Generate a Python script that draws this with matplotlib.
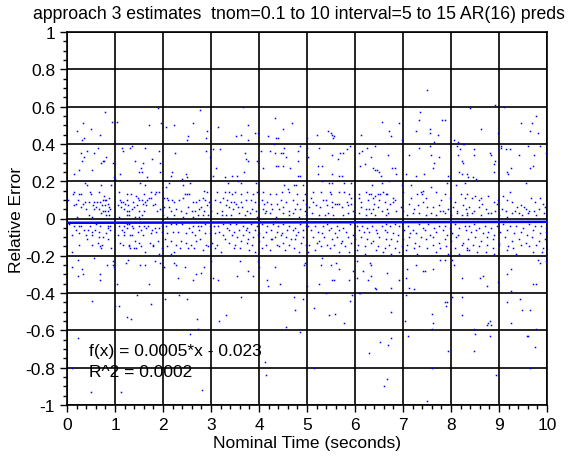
import matplotlib
matplotlib.use("Agg")
import matplotlib.pyplot as plt
from matplotlib.ticker import MultipleLocator, FuncFormatter
import numpy as np

plt.rcParams["font.family"] = ["Liberation Sans", "DejaVu Sans"]
plt.rcParams["axes.unicode_minus"] = False

title = "approach 3 estimates  tnom=0.1 to 10 interval=5 to 15 AR(16) preds"
x_label = "Nominal Time (seconds)"
y_label = "Relative Error"

# fit reported on the chart
fit_slope = 0.0005
fit_intercept = -0.023
r_squared = 0.0002

# (nominal time, relative error)
upper_left = [
    (0.79, 0.57), (0.94, 0.52), (0.33, 0.51), (0.21, 0.47), (0.51, 0.48), (0.68, 0.45), (0.32, 0.42),
    (0.35, 0.43), (1.04, 0.52), (1.90, 0.59), (1.71, 0.50), (1.96, 0.51), (2.06, 0.49), (2.23, 0.50),
    (2.52, 0.44), (2.50, 0.42), (2.63, 0.51), (2.77, 0.58), (2.92, 0.47), (2.90, 0.43), (3.15, 0.49),
    (3.52, 0.44), (3.63, 0.45), (3.67, 0.60), (3.77, 0.50), (3.77, 0.42), (3.92, 0.46), (3.98, 0.46),
    (4.19, 0.44), (4.33, 0.54), (4.36, 0.43), (4.40, 0.43), (4.50, 0.48), (4.69, 0.51), (4.31, 0.40),
    (4.99, 0.43),
    (0.15, 0.24), (0.25, 0.26), (0.29, 0.35), (0.31, 0.31), (0.35, 0.33), (0.42, 0.36), (0.52, 0.26),
    (0.56, 0.35), (0.65, 0.38), (0.71, 0.30), (0.75, 0.31), (0.77, 0.31), (0.81, 0.33), (0.96, 0.30),
    (0.98, 0.22), (1.00, 0.21), (1.10, 0.24), (1.15, 0.38), (1.17, 0.36), (1.31, 0.38), (1.35, 0.39),
    (1.42, 0.31), (1.49, 0.25), (1.54, 0.27), (1.58, 0.30), (1.56, 0.25), (1.63, 0.38), (1.67, 0.22),
    (1.78, 0.32), (1.92, 0.36), (1.94, 0.30), (1.94, 0.25), (2.19, 0.25), (2.17, 0.23), (2.25, 0.35),
    (2.47, 0.24), (2.51, 0.22), (2.40, 0.21), (2.90, 0.36), (2.98, 0.33), (3.04, 0.37), (3.04, 0.23),
    (3.10, 0.27), (3.19, 0.37), (3.29, 0.22), (3.44, 0.23), (3.54, 0.23), (3.69, 0.25), (3.71, 0.35),
    (3.73, 0.32), (3.77, 0.31), (3.96, 0.31), (4.04, 0.36), (4.08, 0.27), (4.22, 0.36), (4.33, 0.35),
    (4.46, 0.35), (4.50, 0.35), (4.35, 0.28), (4.39, 0.28), (4.50, 0.28), (4.52, 0.38), (4.57, 0.33),
    (4.65, 0.27), (4.81, 0.36), (4.81, 0.31), (4.85, 0.39), (4.81, 0.23), (4.85, 0.23), (4.99, 0.38),
    (5.03, 0.33),
]

upper_right = [
    (7.50, 0.69), (8.40, 0.59), (8.92, 0.61), (9.10, 0.60), (9.77, 0.55), (9.69, 0.51), (9.46, 0.51),
    (9.65, 0.47), (9.82, 0.46), (7.35, 0.57), (7.33, 0.53), (7.81, 0.53), (7.88, 0.53), (7.56, 0.48),
    (7.56, 0.46), (7.27, 0.47), (7.65, 0.41), (7.73, 0.45), (6.56, 0.52), (6.71, 0.47), (6.75, 0.44),
    (6.92, 0.51), (6.98, 0.42), (6.13, 0.45), (5.44, 0.47), (5.50, 0.46), (5.52, 0.45), (5.56, 0.44),
    (5.54, 0.43), (5.21, 0.45), (8.63, 0.48), (8.06, 0.42), (8.15, 0.41), (8.25, 0.40), (8.98, 0.46),
    (5.25, 0.38), (5.23, 0.28), (5.31, 0.28), (5.23, 0.24), (5.52, 0.34), (5.52, 0.24), (5.65, 0.32),
    (5.69, 0.35), (5.75, 0.35), (5.67, 0.23), (5.73, 0.23), (5.83, 0.37), (5.90, 0.39), (6.08, 0.35),
    (6.15, 0.36), (6.10, 0.28), (6.21, 0.29), (6.25, 0.38), (6.42, 0.39), (6.33, 0.33), (6.38, 0.27),
    (6.42, 0.26), (6.46, 0.26), (6.50, 0.25), (6.54, 0.23), (6.69, 0.34), (6.77, 0.27), (6.83, 0.27),
    (6.85, 0.24), (7.06, 0.24), (7.13, 0.34), (7.27, 0.23), (7.33, 0.38), (7.44, 0.24), (7.56, 0.39),
    (7.58, 0.34), (7.65, 0.30), (7.63, 0.27), (7.76, 0.33), (7.94, 0.23), (8.13, 0.39), (8.19, 0.37),
    (8.27, 0.40), (8.15, 0.34), (8.22, 0.31), (8.25, 0.30), (8.17, 0.25), (8.23, 0.24), (8.33, 0.24),
    (8.35, 0.22), (8.46, 0.22), (8.48, 0.37), (8.48, 0.34), (8.81, 0.35), (8.83, 0.34), (8.92, 0.31),
    (8.90, 0.29), (8.90, 0.25), (9.04, 0.39), (9.04, 0.38), (9.15, 0.37), (9.23, 0.37), (9.17, 0.25),
    (9.19, 0.24), (9.25, 0.27), (9.42, 0.34), (9.61, 0.39), (9.73, 0.34), (9.65, 0.27), (9.71, 0.28),
    (9.85, 0.39), (9.98, 0.35),
]

lower_left = [
    (0.10, -0.26), (0.23, -0.22), (0.23, -0.31), (0.31, -0.27), (0.33, -0.30), (0.69, -0.30),
    (0.69, -0.33), (0.83, -0.25), (0.96, -0.23), (0.96, -0.25), (0.98, -0.26), (0.52, -0.44),
    (0.23, -0.64), (0.10, -0.80), (0.50, -0.93), (1.04, -0.35), (1.08, -0.47), (1.00, -0.47),
    (1.25, -0.53), (1.33, -0.54), (1.13, -0.93), (1.23, -0.24), (1.27, -0.22), (1.46, -0.41),
    (1.52, -0.25), (1.63, -0.25), (1.71, -0.35), (1.75, -0.46), (1.83, -0.23), (1.94, -0.24),
    (2.02, -0.26), (2.04, -0.43), (2.31, -0.32), (2.33, -0.41), (2.50, -0.43), (2.56, -0.62),
    (2.73, -0.59), (2.71, -0.54), (2.81, -0.92), (2.23, -0.24), (2.27, -0.25), (2.46, -0.26),
    (2.63, -0.33), (2.69, -0.30), (2.79, -0.29), (2.85, -0.26), (3.00, -0.23), (3.04, -0.32),
    (3.15, -0.33), (3.17, -0.55), (3.31, -0.52), (3.54, -0.31), (3.60, -0.23), (3.63, -0.42),
    (3.77, -0.28), (3.88, -0.31), (3.98, -0.23), (4.00, -0.26), (4.13, -0.77), (4.15, -0.84),
    (4.17, -0.33), (4.19, -0.36), (4.33, -0.26), (4.44, -0.35), (4.56, -0.58), (4.73, -0.42),
    (4.75, -0.49), (4.85, -0.61), (4.96, -0.24),
]

lower_right = [
    (4.94, -0.25), (4.92, -0.43), (5.15, -0.48), (5.15, -0.80), (5.25, -0.35), (5.00, -0.36),
    (5.29, -0.25), (5.50, -0.25), (5.60, -0.24), (5.67, -0.27), (5.52, -0.33), (5.56, -0.33),
    (5.40, -0.40), (5.46, -0.52), (5.58, -0.51), (5.77, -0.56), (5.88, -0.33), (5.90, -0.44),
    (5.94, -0.41), (5.96, -0.28), (6.04, -0.23), (6.04, -0.32), (6.08, -0.40), (6.10, -0.40),
    (6.17, -0.28), (6.31, -0.24), (6.33, -0.25), (6.27, -0.33), (6.33, -0.31), (6.42, -0.37),
    (6.44, -0.38), (6.67, -0.29), (6.74, -0.37), (6.92, -0.33), (6.74, -0.50), (6.52, -0.66),
    (6.75, -0.64), (6.69, -0.68), (6.29, -0.72), (6.67, -0.86), (6.60, -0.90), (7.04, -0.55),
    (7.10, -0.63), (7.08, -0.27), (7.06, -0.32), (7.13, -0.37), (7.23, -0.38), (7.06, -0.41),
    (7.27, -0.25), (7.42, -0.28), (7.46, -0.28), (7.63, -0.27), (7.60, -0.51), (7.62, -0.56),
    (7.60, -0.59), (7.88, -0.45), (7.92, -0.45), (7.90, -0.47), (7.94, -0.71), (7.60, -0.80),
    (7.49, -0.98), (7.77, -0.22), (7.88, -0.22), (8.02, -0.22), (8.06, -0.25), (8.02, -0.42),
    (8.23, -0.32), (8.23, -0.42), (8.22, -0.52), (8.47, -0.59), (8.49, -0.62), (8.47, -0.71),
    (8.60, -0.32), (8.67, -0.31), (8.75, -0.36), (8.74, -0.57), (8.78, -0.56), (8.82, -0.55),
    (8.84, -0.57), (8.82, -0.63), (8.94, -0.84), (8.98, -0.34), (9.17, -0.30), (9.24, -0.27),
    (9.17, -0.45), (9.25, -0.39), (9.44, -0.43), (9.25, -0.56), (9.48, -0.49), (9.65, -0.49),
    (9.58, -0.63), (9.60, -0.63), (9.75, -0.69), (9.77, -0.59), (9.65, -0.80), (9.71, -0.35),
    (9.77, -0.35), (9.81, -0.22), (9.85, -0.24), (9.98, -0.23),
]

band_0_to_1_7 = [
    (0.38, 0.19), (0.42, 0.18), (0.71, 0.18), (0.91, 0.18), (1.53, 0.19), (1.63, 0.18), (0.15, 0.14),
    (0.13, 0.13), (0.24, 0.13), (0.29, 0.13), (0.48, 0.14), (0.50, 0.13), (0.67, 0.14), (0.78, 0.12),
    (0.87, 0.11), (1.08, 0.14), (1.26, 0.13), (1.33, 0.13), (1.44, 0.12), (1.47, 0.11), (1.61, 0.13),
    (0.03, 0.10), (0.22, 0.10), (0.38, 0.09), (0.46, 0.09), (0.57, 0.09), (0.63, 0.09), (0.69, 0.09),
    (0.74, 0.10), (0.79, 0.10), (0.82, 0.10), (1.10, 0.10), (1.13, 0.09), (1.17, 0.09), (1.21, 0.08),
    (1.26, 0.10), (1.37, 0.09), (1.49, 0.10), (1.57, 0.10), (1.62, 0.09), (0.14, 0.07), (0.19, 0.08),
    (0.29, 0.06), (0.34, 0.08), (0.54, 0.07), (0.61, 0.06), (0.72, 0.07), (0.79, 0.07), (0.85, 0.08),
    (0.87, 0.06), (1.07, 0.07), (1.13, 0.06), (1.19, 0.05), (1.28, 0.07), (1.39, 0.06), (1.45, 0.07),
    (1.58, 0.08), (1.64, 0.07), (0.40, 0.05), (0.57, 0.05), (0.66, 0.05), (0.75, 0.04), (0.79, 0.04),
    (0.86, 0.04), (0.89, 0.05), (1.24, 0.04), (1.29, 0.04), (1.36, 0.05), (1.49, 0.04), (1.60, 0.04),
    (0.20, 0.01), (0.46, 0.02), (0.53, 0.01), (0.70, 0.03), (0.81, 0.02), (0.88, 0.02), (1.08, 0.01),
    (1.26, 0.02), (1.29, 0.02), (1.41, 0.01), (1.51, 0.01), (1.57, 0.02),
    (0.04, -0.03), (0.15, -0.04), (0.24, -0.04), (0.29, -0.04), (0.47, -0.04), (0.61, -0.03),
    (0.69, -0.04), (0.86, -0.04), (0.90, -0.04), (1.08, -0.04), (1.19, -0.04), (1.24, -0.03),
    (1.29, -0.03), (1.36, -0.04), (1.50, -0.04), (1.60, -0.04), (0.18, -0.06), (0.36, -0.06),
    (0.43, -0.06), (0.52, -0.07), (0.58, -0.06), (0.66, -0.07), (0.85, -0.05), (0.90, -0.06),
    (1.14, -0.06), (1.19, -0.07), (1.25, -0.05), (1.38, -0.05), (1.47, -0.07), (1.54, -0.06),
    (1.64, -0.05), (0.10, -0.09), (0.26, -0.08), (0.39, -0.09), (0.53, -0.09), (0.67, -0.10),
    (0.75, -0.10), (0.82, -0.08), (1.07, -0.09), (1.19, -0.09), (1.31, -0.09), (1.36, -0.09),
    (1.59, -0.09), (0.24, -0.14), (0.42, -0.11), (0.53, -0.14), (0.65, -0.13), (0.72, -0.14),
    (0.86, -0.11), (1.10, -0.13), (1.17, -0.14), (1.29, -0.14), (1.42, -0.12), (1.51, -0.13),
    (0.10, -0.18), (0.69, -0.15), (0.71, -0.16), (0.92, -0.16), (1.29, -0.15), (1.32, -0.16),
    (1.39, -0.16), (1.44, -0.16), (1.63, -0.18), (1.54, -0.15), (0.56, -0.21),
]

band_1_7_to_3_3 = [
    (1.67, 0.10), (1.70, 0.11), (1.76, 0.11), (1.83, 0.13), (1.91, 0.14), (1.83, 0.08), (1.79, 0.07),
    (1.94, 0.05), (1.88, 0.04), (2.03, 0.11), (2.08, 0.11), (2.10, 0.10), (2.19, 0.10), (2.22, 0.09),
    (2.34, 0.10), (2.42, 0.11), (2.45, 0.13), (2.51, 0.13), (2.55, 0.13), (2.62, 0.09), (2.69, 0.09),
    (2.76, 0.10), (2.83, 0.11), (2.88, 0.10), (2.95, 0.09), (2.80, 0.06), (2.91, 0.07), (2.98, 0.06),
    (2.02, 0.06), (2.13, 0.06), (2.17, 0.04), (2.27, 0.05), (2.38, 0.04), (2.52, 0.06), (2.60, 0.04),
    (2.67, 0.04), (2.76, 0.05), (2.86, 0.04), (2.94, 0.02), (3.01, 0.04), (1.99, 0.02), (2.09, 0.01),
    (2.22, 0.02), (2.42, 0.01), (2.48, 0.03), (2.62, 0.01), (2.72, 0.02), (2.83, 0.02), (3.12, 0.03),
    (3.23, 0.02), (3.31, 0.02), (3.08, 0.10), (3.19, 0.09), (3.26, 0.11), (3.29, 0.14), (3.13, 0.14),
    (3.22, 0.04), (3.31, 0.07), (2.06, 0.17), (2.12, 0.19), (2.42, 0.18), (2.56, 0.19), (2.86, 0.15),
    (2.92, 0.14), (1.74, 0.14), (1.85, 0.14),
    (1.69, -0.04), (1.77, -0.06), (1.84, -0.05), (1.92, -0.05), (1.97, -0.04), (2.06, -0.04),
    (2.17, -0.03), (2.27, -0.03), (2.40, -0.03), (2.55, -0.05), (2.62, -0.04), (2.72, -0.04),
    (2.80, -0.04), (2.88, -0.03), (2.97, -0.04), (3.06, -0.04), (3.15, -0.04), (3.26, -0.03),
    (3.33, -0.05), (1.74, -0.08), (1.85, -0.07), (1.98, -0.07), (2.09, -0.08), (2.20, -0.07),
    (2.31, -0.07), (2.48, -0.08), (2.60, -0.07), (2.67, -0.09), (2.76, -0.06), (2.87, -0.08),
    (2.97, -0.08), (3.08, -0.08), (3.17, -0.07), (3.24, -0.09), (1.72, -0.13), (1.80, -0.14),
    (1.90, -0.12), (2.05, -0.11), (2.17, -0.12), (2.27, -0.14), (2.37, -0.12), (2.47, -0.13),
    (2.59, -0.14), (2.69, -0.12), (2.77, -0.11), (2.90, -0.14), (3.03, -0.13), (3.13, -0.14),
    (3.29, -0.11), (1.79, -0.15), (1.97, -0.16), (2.09, -0.15), (2.23, -0.18), (2.35, -0.16),
    (2.53, -0.16), (2.65, -0.16), (2.83, -0.17), (2.94, -0.15), (3.09, -0.16), (3.20, -0.18),
    (1.91, -0.19), (2.17, -0.19),
]

band_3_3_to_5 = [
    (3.35, 0.19), (3.56, 0.20), (3.62, 0.19), (3.94, 0.19), (4.53, 0.18), (4.60, 0.16), (4.73, 0.18),
    (4.77, 0.18), (4.92, 0.18), (3.38, 0.14), (3.44, 0.13), (3.51, 0.14), (3.62, 0.13), (3.76, 0.14),
    (3.88, 0.13), (3.95, 0.14), (4.08, 0.14), (4.23, 0.13), (4.35, 0.13), (4.48, 0.14), (4.62, 0.14),
    (4.80, 0.13), (4.95, 0.13), (3.34, 0.10), (3.41, 0.09), (3.47, 0.09), (3.52, 0.08), (3.63, 0.09),
    (3.72, 0.10), (3.83, 0.10), (3.91, 0.09), (4.06, 0.10), (4.10, 0.08), (4.16, 0.09), (4.24, 0.08),
    (4.37, 0.08), (4.45, 0.10), (4.56, 0.09), (4.70, 0.10), (4.80, 0.08), (4.91, 0.10), (4.98, 0.08),
    (3.37, 0.06), (3.45, 0.05), (3.56, 0.06), (3.65, 0.06), (3.74, 0.04), (3.85, 0.05), (3.94, 0.04),
    (4.09, 0.05), (4.15, 0.04), (4.28, 0.05), (4.41, 0.05), (4.51, 0.06), (4.63, 0.04), (4.74, 0.05),
    (4.85, 0.05), (4.95, 0.04), (3.42, 0.02), (3.59, 0.03), (3.70, 0.02), (3.81, 0.03), (3.95, 0.01),
    (4.12, 0.03), (4.23, 0.03), (4.35, 0.01), (4.49, 0.03), (4.62, 0.02), (4.70, 0.03), (4.84, 0.01),
    (4.97, 0.02),
    (3.40, -0.03), (3.52, -0.03), (3.66, -0.04), (3.74, -0.05), (3.84, -0.03), (3.95, -0.04),
    (4.06, -0.03), (4.17, -0.04), (4.30, -0.03), (4.40, -0.04), (4.49, -0.03), (4.63, -0.04),
    (4.74, -0.05), (4.85, -0.03), (4.97, -0.04), (3.37, -0.06), (3.48, -0.07), (3.59, -0.06),
    (3.72, -0.06), (3.80, -0.07), (3.92, -0.06), (4.01, -0.08), (4.15, -0.07), (4.26, -0.06),
    (4.37, -0.07), (4.47, -0.08), (4.59, -0.06), (4.70, -0.06), (4.81, -0.07), (4.91, -0.06),
    (3.44, -0.09), (3.55, -0.10), (3.67, -0.09), (3.77, -0.11), (3.88, -0.10), (3.98, -0.09),
    (4.09, -0.10), (4.24, -0.11), (4.34, -0.10), (4.45, -0.09), (4.56, -0.10), (4.67, -0.11),
    (4.78, -0.09), (4.92, -0.10), (3.38, -0.13), (3.51, -0.14), (3.63, -0.12), (3.76, -0.13),
    (3.85, -0.14), (4.01, -0.12), (4.15, -0.14), (4.27, -0.11), (4.37, -0.14), (4.49, -0.13),
    (4.62, -0.14), (4.74, -0.11), (4.87, -0.13), (4.98, -0.14), (3.47, -0.16), (3.60, -0.16),
    (3.80, -0.17), (3.91, -0.18), (4.06, -0.16), (4.23, -0.17), (4.42, -0.15), (4.55, -0.17),
    (4.73, -0.16), (4.84, -0.18),
]

band_5_to_6_7 = [
    (5.31, 0.20), (5.45, 0.19), (5.52, 0.19), (5.78, 0.19), (5.92, 0.19), (6.35, 0.18), (6.56, 0.19),
    (5.12, 0.14), (5.30, 0.14), (5.47, 0.14), (5.51, 0.13), (5.66, 0.14), (5.78, 0.14), (5.88, 0.13),
    (6.09, 0.13), (6.22, 0.14), (6.29, 0.13), (6.34, 0.13), (6.41, 0.12), (6.47, 0.13), (6.52, 0.13),
    (6.59, 0.14), (6.65, 0.13), (5.08, 0.11), (5.13, 0.09), (5.33, 0.10), (5.40, 0.10), (5.52, 0.09),
    (5.63, 0.08), (5.67, 0.08), (5.83, 0.09), (5.92, 0.11), (6.09, 0.11), (6.13, 0.09), (6.27, 0.10),
    (6.37, 0.11), (6.40, 0.08), (6.51, 0.10), (6.62, 0.09), (5.05, 0.06), (5.19, 0.07), (5.27, 0.06),
    (5.42, 0.07), (5.53, 0.06), (5.59, 0.08), (5.72, 0.06), (5.85, 0.07), (5.91, 0.08), (6.12, 0.06),
    (6.23, 0.05), (6.30, 0.05), (6.37, 0.05), (6.47, 0.06), (6.56, 0.04), (6.67, 0.05), (5.10, 0.03),
    (5.24, 0.02), (5.37, 0.02), (5.44, 0.03), (5.55, 0.02), (5.74, 0.02), (5.85, 0.03), (5.95, 0.04),
    (6.09, 0.03), (6.22, 0.02), (6.34, 0.03), (6.42, 0.02), (6.65, 0.02),
    (5.03, -0.04), (5.16, -0.04), (5.33, -0.04), (5.41, -0.03), (5.51, -0.05), (5.62, -0.04),
    (5.76, -0.05), (5.90, -0.03), (6.05, -0.04), (6.15, -0.04), (6.26, -0.05), (6.35, -0.04),
    (6.44, -0.06), (6.56, -0.04), (6.65, -0.03), (5.08, -0.06), (5.22, -0.07), (5.31, -0.08),
    (5.46, -0.06), (5.59, -0.08), (5.67, -0.06), (5.81, -0.07), (5.95, -0.09), (6.09, -0.06),
    (6.19, -0.07), (6.30, -0.07), (6.45, -0.08), (6.62, -0.06), (5.12, -0.10), (5.24, -0.12),
    (5.35, -0.10), (5.52, -0.11), (5.63, -0.10), (5.72, -0.12), (5.85, -0.10), (6.01, -0.11),
    (6.12, -0.10), (6.24, -0.11), (6.37, -0.12), (6.49, -0.10), (6.65, -0.11), (5.05, -0.14),
    (5.21, -0.13), (5.30, -0.15), (5.41, -0.14), (5.56, -0.14), (5.70, -0.13), (5.80, -0.15),
    (5.92, -0.13), (6.06, -0.14), (6.20, -0.15), (6.34, -0.13), (6.47, -0.15), (6.63, -0.16),
    (5.02, -0.18), (5.17, -0.17), (5.31, -0.21), (5.48, -0.16), (5.66, -0.18), (5.88, -0.18),
    (6.04, -0.17), (6.20, -0.19), (6.44, -0.17), (6.59, -0.18),
]

band_6_7_to_8_3 = [
    (6.70, 0.20), (6.97, 0.18), (7.17, 0.18), (7.42, 0.15), (7.59, 0.17), (7.91, 0.19), (8.10, 0.18),
    (8.30, 0.19), (6.67, 0.13), (6.79, 0.11), (6.84, 0.10), (7.01, 0.14), (7.16, 0.11), (7.29, 0.13),
    (7.37, 0.14), (7.40, 0.13), (7.48, 0.11), (7.69, 0.14), (7.79, 0.10), (7.88, 0.13), (7.98, 0.11),
    (8.09, 0.09), (8.20, 0.13), (8.30, 0.11), (6.73, 0.08), (6.80, 0.09), (6.95, 0.06), (7.12, 0.08),
    (7.22, 0.05), (7.31, 0.07), (7.41, 0.09), (7.51, 0.06), (7.62, 0.06), (7.74, 0.07), (7.83, 0.04),
    (7.94, 0.05), (8.05, 0.06), (8.13, 0.04), (8.24, 0.07), (8.31, 0.05), (6.69, 0.03), (6.85, 0.04),
    (6.99, 0.04), (7.08, 0.02), (7.20, 0.03), (7.34, 0.03), (7.47, 0.02), (7.59, 0.03), (7.69, 0.02),
    (7.77, 0.04), (7.88, 0.03), (8.01, 0.02), (8.12, 0.03), (8.23, 0.02), (8.33, 0.03),
    (6.72, -0.04), (6.83, -0.03), (6.92, -0.04), (7.10, -0.04), (7.20, -0.06), (7.33, -0.03),
    (7.42, -0.05), (7.52, -0.03), (7.65, -0.05), (7.76, -0.04), (7.88, -0.04), (7.97, -0.05),
    (8.08, -0.03), (8.16, -0.05), (8.29, -0.04), (6.67, -0.07), (6.79, -0.08), (6.90, -0.09),
    (7.02, -0.06), (7.15, -0.08), (7.28, -0.08), (7.45, -0.06), (7.56, -0.09), (7.69, -0.07),
    (7.84, -0.06), (7.92, -0.09), (8.03, -0.08), (8.15, -0.09), (8.31, -0.06), (6.74, -0.11),
    (6.88, -0.12), (6.99, -0.11), (7.13, -0.10), (7.26, -0.13), (7.37, -0.10), (7.48, -0.11),
    (7.62, -0.10), (7.74, -0.13), (7.87, -0.11), (7.99, -0.12), (8.10, -0.10), (8.24, -0.13),
    (6.70, -0.14), (6.83, -0.16), (6.98, -0.15), (7.09, -0.14), (7.22, -0.16), (7.34, -0.15),
    (7.49, -0.16), (7.63, -0.14), (7.77, -0.16), (7.90, -0.15), (8.08, -0.16), (8.22, -0.14),
    (8.33, -0.17), (6.76, -0.19), (6.92, -0.18), (7.06, -0.17), (7.30, -0.19), (7.69, -0.18),
    (7.94, -0.19), (8.17, -0.19),
]

band_8_3_to_10 = [
    (8.52, 0.21), (9.23, 0.14), (9.56, 0.19), (8.34, 0.13), (8.44, 0.11), (8.49, 0.12), (8.59, 0.10),
    (8.63, 0.11), (8.65, 0.08), (8.78, 0.12), (8.90, 0.09), (8.95, 0.08), (8.98, 0.10), (9.08, 0.12),
    (9.17, 0.10), (9.27, 0.09), (9.37, 0.06), (9.46, 0.07), (9.56, 0.05), (9.67, 0.11), (9.74, 0.09),
    (9.85, 0.11), (9.92, 0.08), (8.38, 0.06), (8.48, 0.04), (8.58, 0.06), (8.72, 0.05), (8.84, 0.03),
    (8.91, 0.04), (9.06, 0.05), (9.15, 0.04), (9.33, 0.04), (9.42, 0.03), (9.52, 0.06), (9.63, 0.04),
    (9.73, 0.04), (9.83, 0.05), (9.95, 0.06), (8.33, 0.02), (8.44, 0.03), (8.62, 0.02), (8.78, 0.03),
    (8.99, 0.02), (9.16, 0.01), (9.28, 0.03), (9.48, 0.02), (9.60, 0.03), (9.78, 0.02), (9.94, 0.03),
    (8.37, -0.04), (8.48, -0.03), (8.59, -0.05), (8.70, -0.04), (8.83, -0.05), (8.95, -0.04),
    (9.09, -0.03), (9.22, -0.04), (9.35, -0.04), (9.49, -0.05), (9.62, -0.03), (9.76, -0.04),
    (9.88, -0.04), (9.98, -0.05), (8.41, -0.07), (8.53, -0.06), (8.66, -0.08), (8.77, -0.07),
    (8.90, -0.09), (9.03, -0.07), (9.17, -0.06), (9.31, -0.08), (9.46, -0.07), (9.59, -0.09),
    (9.70, -0.06), (9.85, -0.08), (9.97, -0.07), (8.35, -0.11), (8.49, -0.10), (8.62, -0.12),
    (8.76, -0.10), (8.88, -0.11), (8.99, -0.13), (9.13, -0.10), (9.27, -0.12), (9.42, -0.11),
    (9.56, -0.13), (9.69, -0.10), (9.83, -0.12), (9.95, -0.11), (8.34, -0.16), (8.45, -0.14),
    (8.59, -0.15), (8.74, -0.14), (8.87, -0.16), (9.01, -0.14), (9.19, -0.15), (9.30, -0.16),
    (9.45, -0.14), (9.62, -0.15), (9.77, -0.14), (9.91, -0.16), (8.38, -0.17), (8.55, -0.18),
    (8.72, -0.18), (8.90, -0.19), (9.16, -0.17), (9.35, -0.19), (9.70, -0.18), (9.90, -0.18),
]

groups = [upper_left, upper_right, lower_left, lower_right, band_0_to_1_7, band_1_7_to_3_3,
          band_3_3_to_5, band_5_to_6_7, band_6_7_to_8_3, band_8_3_to_10]
t, err = np.array([p for g in groups for p in g]).T

fig = plt.figure(figsize=(5.69, 4.6), dpi=100)
ax = fig.add_axes([67 / 569, 54 / 460, 480 / 569, 373 / 460])

ax.plot(t, err, ls="none", marker="s", ms=1.1, mew=0, color="#0000ff", zorder=3)

fit_x = np.array([0.0, 10.0])
ax.plot(fit_x, fit_slope * fit_x + fit_intercept, color="#0000ff", lw=1.8, zorder=4)

ax.set_xlim(0, 10)
ax.set_ylim(-1, 1)
ax.xaxis.set_major_locator(MultipleLocator(1))
ax.xaxis.set_minor_locator(MultipleLocator(0.2))
ax.yaxis.set_major_locator(MultipleLocator(0.2))
ax.yaxis.set_minor_locator(MultipleLocator(0.05))
ax.yaxis.set_major_formatter(FuncFormatter(lambda v, _: f"{round(v, 1) + 0:g}"))
ax.tick_params(which="major", direction="out", length=5, width=1, labelsize=12.5, colors="black")
ax.tick_params(which="minor", direction="out", length=3, width=1)
ax.grid(which="major", color="black", lw=1.2)
ax.set_axisbelow(True)
for s in ax.spines.values():
    s.set_linewidth(1.2)

ax.text(0.46, -0.71, f"f(x) = {fit_slope}*x - {abs(fit_intercept)}", fontsize=12.5, va="center")
ax.text(0.46, -0.82, f"R^2 = {r_squared}", fontsize=12.5, va="center")

ax.set_xlabel(x_label, fontsize=12.5, labelpad=2)
ax.set_ylabel(y_label, fontsize=12.5, labelpad=1)
fig.text(0.525, 0.968, title, ha="center", va="center", fontsize=12.7)

fig.savefig("out.png", dpi=100)
